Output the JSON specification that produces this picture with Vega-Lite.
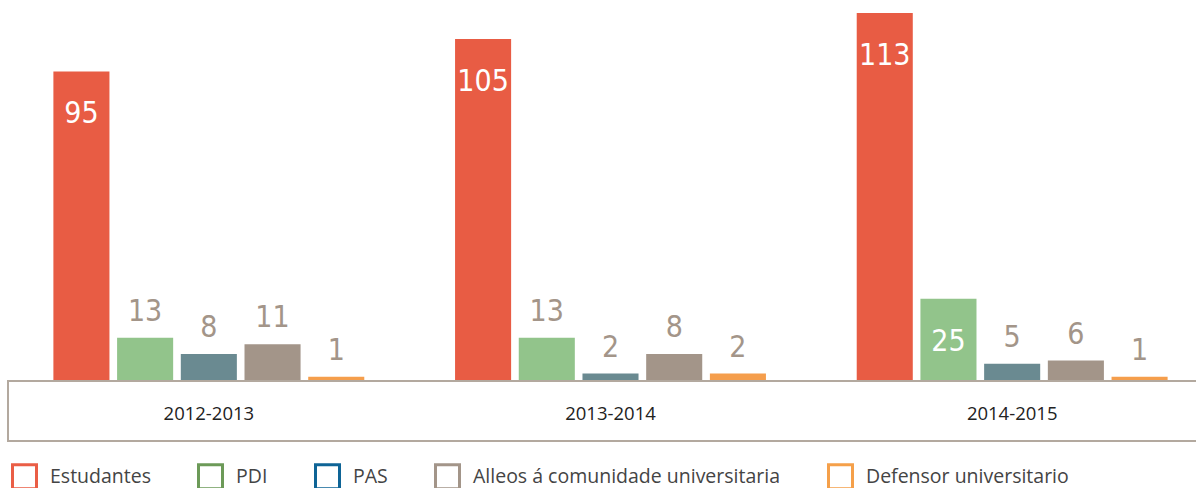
{
  "$schema": "https://vega.github.io/schema/vega-lite/v6.json",
  "padding": {"left": 7, "top": 0, "right": 0, "bottom": 0},
  "background": "white",
  "config": {"view": {"stroke": null}, "concat": {"spacing": 0}},
  "spacing": 0,
  "data": {"values": [
    {"year": "2012-2013", "cat": "Estudantes", "value": 95},
    {"year": "2012-2013", "cat": "PDI", "value": 13},
    {"year": "2012-2013", "cat": "PAS", "value": 8},
    {"year": "2012-2013", "cat": "Alleos á comunidade universitaria", "value": 11},
    {"year": "2012-2013", "cat": "Defensor universitario", "value": 1},
    {"year": "2013-2014", "cat": "Estudantes", "value": 105},
    {"year": "2013-2014", "cat": "PDI", "value": 13},
    {"year": "2013-2014", "cat": "PAS", "value": 2},
    {"year": "2013-2014", "cat": "Alleos á comunidade universitaria", "value": 8},
    {"year": "2013-2014", "cat": "Defensor universitario", "value": 2},
    {"year": "2014-2015", "cat": "Estudantes", "value": 113},
    {"year": "2014-2015", "cat": "PDI", "value": 25},
    {"year": "2014-2015", "cat": "PAS", "value": 5},
    {"year": "2014-2015", "cat": "Alleos á comunidade universitaria", "value": 6},
    {"year": "2014-2015", "cat": "Defensor universitario", "value": 1}
  ]},
  "vconcat": [
    {
      "width": 1205,
      "height": 380,
      "encoding": {
        "x": {"field": "year", "type": "nominal", "axis": null, "scale": {"paddingInner": 0.226, "paddingOuter": 0.113}},
        "xOffset": {"field": "cat", "type": "nominal", "scale": {"domain": ["Estudantes", "PDI", "PAS", "Alleos á comunidade universitaria", "Defensor universitario"], "paddingInner": 0.12, "paddingOuter": 0}},
        "y": {"field": "value", "type": "quantitative", "axis": null, "scale": {"domain": [0, 117], "nice": false}}
      },
      "layer": [
        {
          "mark": {"type": "bar", "strokeWidth": 0},
          "encoding": {
            "fill": {"field": "cat", "type": "nominal", "legend": null,
              "scale": {"domain": ["Defensor universitario", "Alleos á comunidade universitaria", "PAS", "PDI", "Estudantes"], "range": ["#F59E4C", "#A39589", "#6A8A91", "#92C48B", "#E85C44"]}},
            "stroke": {"field": "cat", "type": "nominal",
              "scale": {"domain": ["Estudantes", "PDI", "PAS", "Alleos á comunidade universitaria", "Defensor universitario"], "range": ["#EA5E46", "#6C9A58", "#0E6496", "#A39589", "#F5A04A"]},
              "legend": {"orient": "none", "legendX": 3, "legendY": 463, "direction": "horizontal", "title": null, "padding": 0,
                "symbolType": "square", "symbolSize": 576, "symbolStrokeWidth": 3, "symbolFillColor": "white", "symbolOpacity": 1,
                "labelFont": "Open Sans", "labelFontSize": 19.5, "labelColor": "#444444", "columnPadding": 41, "labelOffset": 12,
                "labelLimit": 400,
                "encode": {"symbols": {"update": {"fill": {"value": "white"}, "strokeWidth": {"value": 3}, "opacity": {"value": 1}}}}}}
          }
        },
        {
          "transform": [{"filter": "datum.value >= 20"}],
          "mark": {"type": "text", "baseline": "top", "dy": 28, "color": "white", "font": "DejaVu Sans Condensed", "fontSize": 30},
          "encoding": {"text": {"field": "value", "type": "quantitative"}}
        },
        {
          "transform": [{"filter": "datum.value < 20"}],
          "mark": {"type": "text", "baseline": "alphabetic", "dy": -17, "color": "#A39589", "font": "DejaVu Sans Condensed", "fontSize": 30},
          "encoding": {"text": {"field": "value", "type": "quantitative"}}
        }
      ]
    },
    {
      "width": 1205,
      "height": 60,
      "view": {"stroke": "#B3A99F", "strokeWidth": 2},
      "transform": [{"aggregate": [{"op": "count", "as": "n"}], "groupby": ["year"]}],
      "mark": {"type": "text", "font": "Open Sans", "fontSize": 18.5, "color": "#222222", "dy": 3},
      "encoding": {
        "x": {"field": "year", "type": "nominal", "axis": null, "scale": {"paddingInner": 0.226, "paddingOuter": 0.113}},
        "text": {"field": "year", "type": "nominal"}
      }
    }
  ]
}
